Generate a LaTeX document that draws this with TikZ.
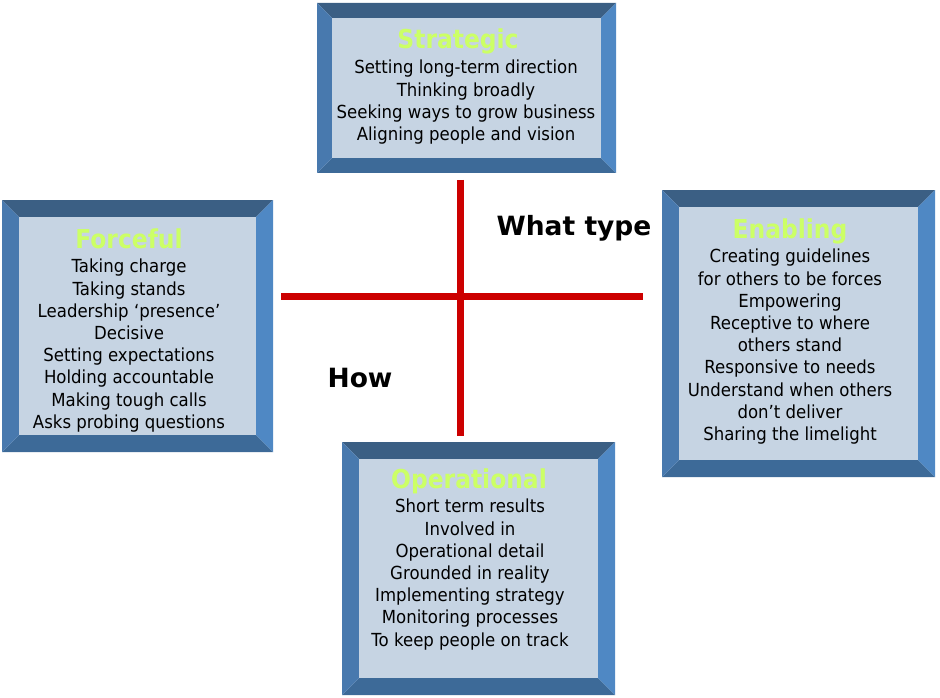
\documentclass[tikz,border=0pt]{standalone}
\usepackage{fontspec}
\setmainfont{DejaVu Sans}
\newfontfamily\condfont[FakeStretch=0.92,Ligatures=TeX]{DejaVu Sans}
\newfontfamily\condbold[FakeStretch=0.9]{DejaVu Sans Bold}
\definecolor{bvtop}{HTML}{3B5F84}
\definecolor{bvleft}{HTML}{4879AE}
\definecolor{bvright}{HTML}{4F88C4}
\definecolor{bvbot}{HTML}{3D6A98}
\definecolor{bvface}{HTML}{C6D4E3}
\definecolor{ttlgreen}{HTML}{CCFF66}
\definecolor{crossred}{HTML}{CC0000}
\newcommand\bevelbox[6]{% name x1 y1 x2 y2 b
  \fill[bvtop] (#2,#3) -- (#4,#3) -- (#4-#6,#3+#6) -- (#2+#6,#3+#6) -- cycle;
  \fill[bvbot] (#2,#5) -- (#4,#5) -- (#4-#6,#5-#6) -- (#2+#6,#5-#6) -- cycle;
  \fill[bvleft] (#2,#3) -- (#2+#6,#3+#6) -- (#2+#6,#5-#6) -- (#2,#5) -- cycle;
  \fill[bvright] (#4,#3) -- (#4-#6,#3+#6) -- (#4-#6,#5-#6) -- (#4,#5) -- cycle;
  \fill[bvface] (#2+#6,#3+#6) rectangle (#4-#6,#5-#6);
  \coordinate (#1) at ({(#2+#4)/2},{(#3+#5)/2});
}
\tikzset{
  ttl/.style={text=ttlgreen, font=\condbold\fontsize{26}{28}\selectfont, inner sep=0pt, anchor=base},
  body/.style={align=center, font=\condfont\fontsize{18}{22.2}\selectfont, inner sep=0pt, anchor=north},
  axislbl/.style={font=\fontsize{26.5}{30}\selectfont\bfseries, inner sep=0pt},
  crossline/.style={draw=crossred, line width=7pt}
}
\begin{document}
\begin{tikzpicture}[x=1pt,y=-1pt]
\useasboundingbox (0,0) rectangle (940,698);
% cross
\coordinate (vtop) at (460,180);
\coordinate (vbot) at (460,436);
\coordinate (hl) at (281,296);
\coordinate (hr) at (643,296);
\draw[crossline] (vtop) -- (vbot);
\draw[crossline] (hl) -- (hr);
% boxes
\bevelbox{strat}{317}{3}{616}{173}{15}
\bevelbox{force}{2}{200}{273}{452}{17}
\bevelbox{enab}{662}{190}{935}{477}{17}
\bevelbox{oper}{342}{442}{615}{695}{17}
% titles
\node[ttl] (strat-t) at (458,49) {Strategic};
\node[ttl] (force-t) at (129,248) {Forceful};
\node[ttl] (enab-t) at (790,238) {Enabling};
\node[ttl] (oper-t) at (469,488) {Operational};
% bodies
\node[body] (strat-b) at (466,60) {Setting long-term direction\\Thinking broadly\\Seeking ways to grow business\\Aligning people and vision};
\node[body] (force-b) at (129,259) {Taking charge\\Taking stands\\Leadership ‘presence’\\Decisive\\Setting expectations\\Holding accountable\\Making tough calls\\Asks probing questions};
\node[body] (enab-b) at (790,249) {Creating guidelines\\for others to be forces\\Empowering\\Receptive to where\\others stand\\Responsive to needs\\Understand when others\\don’t deliver\\Sharing the limelight};
\node[body] (oper-b) at (470,499) {Short term results\\Involved in\\Operational detail\\Grounded in reality\\Implementing strategy\\Monitoring processes\\To keep people on track};
% axis labels
\node[axislbl] (what) at (574,228) {What type};
\node[axislbl] (how) at (360,378) {How};
\end{tikzpicture}
\end{document}
